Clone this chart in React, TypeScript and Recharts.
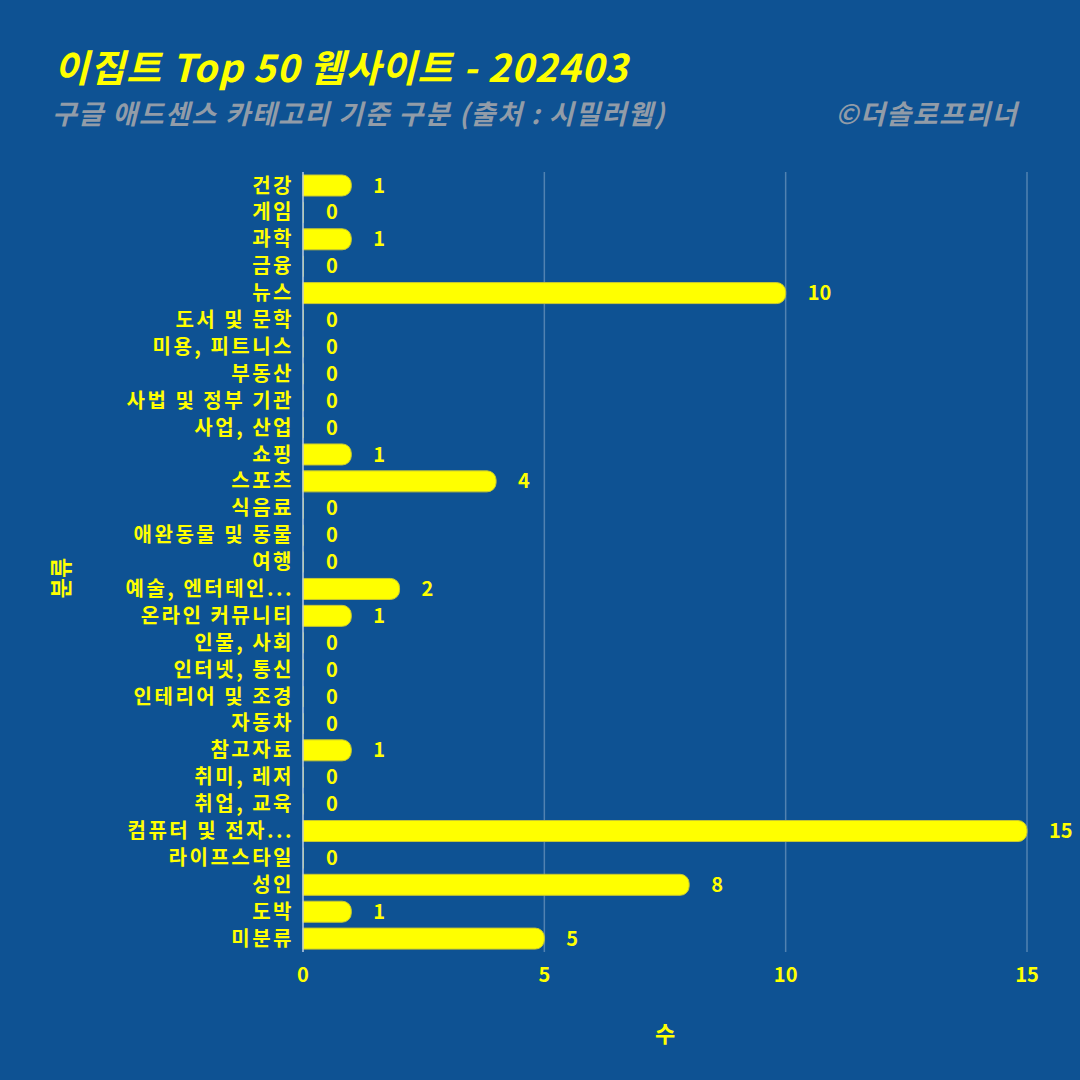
import { BarChart, Bar, XAxis, YAxis, CartesianGrid, LabelList, Cell } from "recharts";

const categories = [
  "건강", "게임", "과학", "금융", "뉴스", "도서 및 문학", "미용, 피트니스", "부동산",
  "사법 및 정부 기관", "사업, 산업", "쇼핑", "스포츠", "식음료", "애완동물 및 동물", "여행",
  "예술, 엔터테인...", "온라인 커뮤니티", "인물, 사회", "인터넷, 통신", "인테리어 및 조경",
  "자동차", "참고자료", "취미, 레저", "취업, 교육", "컴퓨터 및 전자...", "라이프스타일",
  "성인", "도박", "미분류",
];
const counts = [1, 0, 1, 0, 10, 0, 0, 0, 0, 0, 1, 4, 0, 0, 0, 2, 1, 0, 0, 0, 0, 1, 0, 0, 15, 0, 8, 1, 5];
const xTicks = [0, 5, 10, 15];

const title = "이집트 Top 50 웹사이트 - 202403";
const subtitle = "구글 애드센스 카테고리 기준 구분 (출처 : 시밀러웹)";
const credit = "©더솔로프리너";

const BG = "#0E5293";
const YELLOW = "#FFFF00";
const GREY = "#929CA8";
const FONT = "'Noto Sans CJK KR', 'Noto Sans', sans-serif";

const data = categories.map((name, i) => ({ name, value: counts[i] }));

export default function App() {
  return (
    <div
      style={{
        position: "absolute",
        left: 0,
        top: 0,
        width: 1080,
        height: 1080,
        background: BG,
        fontFamily: FONT,
        overflow: "hidden",
      }}
    >
      <div
        style={{
          position: "absolute",
          left: 54,
          top: 40,
          lineHeight: "52px",
          color: YELLOW,
          fontSize: 38,
          fontWeight: 700,
          fontStyle: "italic",
          letterSpacing: 1,
          whiteSpace: "nowrap",
        }}
      >
        {title}
      </div>
      <div
        style={{
          position: "absolute",
          left: 52,
          top: 94,
          lineHeight: "38px",
          color: GREY,
          fontSize: 27,
          fontWeight: 700,
          fontStyle: "italic",
          letterSpacing: 1.5,
          whiteSpace: "nowrap",
        }}
      >
        {subtitle}
      </div>
      <div
        style={{
          position: "absolute",
          right: 62,
          top: 94,
          lineHeight: "38px",
          color: GREY,
          fontSize: 27,
          fontWeight: 700,
          fontStyle: "italic",
          letterSpacing: 1.5,
          whiteSpace: "nowrap",
        }}
      >
        {credit}
      </div>
      <div
        style={{
          position: "absolute",
          left: 59,
          top: 578,
          color: YELLOW,
          fontSize: 22,
          fontWeight: 700,
          transform: "translate(-50%, -50%) rotate(-90deg)",
          whiteSpace: "nowrap",
        }}
      >
        분류
      </div>
      <BarChart
        width={1080}
        height={1080}
        data={data}
        layout="vertical"
        margin={{ top: 172, right: 53, bottom: 28, left: 0 }}
        barSize={21}
        style={{ position: "absolute", left: 0, top: 0 }}
      >
        <CartesianGrid horizontal={false} stroke="rgba(255,255,255,0.28)" strokeWidth={1.5} />
        <XAxis
          type="number"
          domain={[0, 15]}
          ticks={xTicks}
          height={100}
          axisLine={false}
          tickLine={false}
          tickMargin={10}
          tick={{ fill: YELLOW, fontSize: 20, fontWeight: 700, fontFamily: FONT }}
          label={{
            value: "수",
            position: "insideBottom",
            offset: 10,
            fill: YELLOW,
            fontSize: 22,
            fontWeight: 700,
          }}
        />
        <YAxis
          type="category"
          dataKey="name"
          width={303}
          interval={0}
          axisLine={{ stroke: "rgba(200,215,235,0.6)", strokeWidth: 2 }}
          tickLine={false}
          tickMargin={3}
          tick={{ fill: YELLOW, fontSize: 20, fontWeight: 700, fontFamily: FONT, letterSpacing: 2.5 }}
        />
        <Bar
          dataKey="value"
          minPointSize={1}
          radius={[0, 9, 9, 0]}
          isAnimationActive={false}
        >
          {data.map((d, i) => (
            <Cell
              key={`cell-${i}`}
              fill={YELLOW}
              fillOpacity={d.value === 0 ? 0.45 : 1}
              stroke={d.value === 0 ? "none" : "#C9C832"}
              strokeWidth={1}
            />
          ))}
          <LabelList
            dataKey="value"
            position="right"
            offset={22}
            fill={YELLOW}
            fontSize={20}
            fontWeight={700}
            fontFamily={FONT}
          />
        </Bar>
      </BarChart>
    </div>
  );
}
